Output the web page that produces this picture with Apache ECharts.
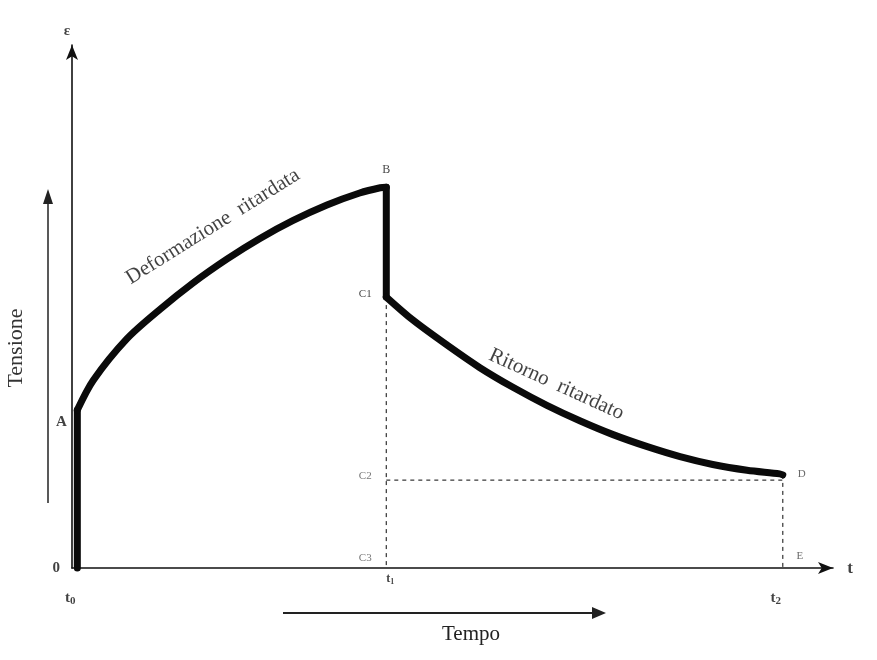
<!DOCTYPE html>
<html><head><meta charset="utf-8">
<script src="https://cdn.jsdelivr.net/npm/echarts@6/dist/echarts.min.js"></script>
<style>html,body{margin:0;padding:0;background:#fff}#c{width:877px;height:660px}</style>
</head><body><div id="c"></div>
<script>
// ---- data (time units, strain units) ----
const t0 = 0.07, t1 = 4.13, t2 = 9.34;
const levelA = 3.02, levelB = 7.28, levelC1 = 5.18, levelC2 = 1.68, levelD = 1.78;
const riseSegment = [[t0, 0], [t0, levelA]];
const deformation = [[t0, levelA], [0.28, 3.59], [0.72, 4.38], [1.16, 4.95], [1.59, 5.45], [2.04, 5.91], [2.47, 6.30], [2.90, 6.64], [3.35, 6.94], [3.78, 7.17], [4.05, 7.27], [t1, levelB]];
const dropSegment = [[t1, levelB], [t1, levelC1]];
const recovery = [[t1, levelC1], [4.48, 4.74], [4.93, 4.26], [5.36, 3.83], [5.80, 3.45], [6.24, 3.11], [6.68, 2.81], [7.11, 2.55], [7.56, 2.32], [7.99, 2.13], [8.42, 1.98], [8.87, 1.87], [9.30, 1.80], [t2, levelD]];
const guideT1 = [[t1, levelC1], [t1, 0]];
const guideC2 = [[t1, levelC2], [t2, levelC2]];
const guideT2 = [[t2, levelD], [t2, 0]];
const pointLabels = [
  ['A', t0, levelA], ['0', t0, 0], ['t0', t0, 0], ['B', t1, levelB], ['C1', t1, levelC1],
  ['C2', t1, levelC2], ['C3', t1, 0], ['t1', t1, 0], ['D', t2, levelD], ['E', t2, 0],
  ['t2', t2, 0], ['t', 10, 0], ['ε', 0, 10],
  ['Deformazione  ritardata', 2.04, 5.91], ['Ritorno  ritardato', 6.24, 3.11]
];
const axisMin = 0, axisMax = 10;

// ---- styles ----
const serif = '"Liberation Serif","DejaVu Serif",serif';
const labelStyle = {
  'A': {offset: [-16, 12], fontSize: 15, fontWeight: 'bold'},
  '0': {offset: [-21, 0], fontSize: 15, fontWeight: 'bold'},
  't0': {offset: [-7, 30], rich: true},
  'B': {offset: [0, -17], fontSize: 12},
  'C1': {offset: [-21, -3], fontSize: 11},
  'C2': {offset: [-21, -4], fontSize: 11, color: '#555'},
  'C3': {offset: [-21, -10], fontSize: 11, color: '#555'},
  't1': {offset: [4, 11], rich: true, small: true},
  'D': {offset: [19, -1], fontSize: 11, color: '#444'},
  'E': {offset: [17, -12], fontSize: 11, color: '#444'},
  't2': {offset: [-7, 30], rich: true},
  't': {offset: [17, 1], fontSize: 17, fontWeight: 'bold'},
  'ε': {offset: [-5, -14], fontSize: 15, fontWeight: 'bold'},
  'Deformazione  ritardata': {offset: [5, -35], fontSize: 21, rotate: 32},
  'Ritorno  ritardato': {offset: [0, -23], fontSize: 21, rotate: -24.5}
};

function labelItem(p) {
  const s = labelStyle[p[0]];
  const lab = {show: true, position: 'inside', offset: s.offset, color: s.color || '#111',
    fontFamily: serif, fontSize: s.fontSize || 14, fontWeight: s.fontWeight || 'normal',
    rotate: s.rotate || 0};
  if (s.rich) {
    const main = s.small ? 12 : 15;
    lab.formatter = '{m|' + p[0][0] + '}{s|' + p[0].slice(1) + '}';
    lab.rich = {m: {fontSize: main, fontWeight: 'bold', fontFamily: serif, color: '#111'},
                s: {fontSize: main - 4, fontWeight: 'bold', fontFamily: serif, color: '#111', padding: [6, 0, 0, 0]}};
  } else {
    lab.formatter = p[0];
  }
  return {value: [p[1], p[2]], label: lab};
}

const thick = {color: '#0a0a0a', width: 7, cap: 'round', join: 'round'};
const dashed = {color: '#333', width: 1.2, type: [4, 4]};
const axisCommon = {
  type: 'value', min: axisMin, max: axisMax,
  axisLine: {show: true, lineStyle: {color: '#111', width: 1.6}, symbol: ['none', 'arrow'], symbolSize: [9, 15]},
  axisTick: {show: false}, axisLabel: {show: false}, splitLine: {show: false}
};
function lineSeries(data, style, smooth) {
  return {type: 'line', data: data, symbol: 'none', smooth: smooth ? 0.3 : false,
    lineStyle: style, clip: false, silent: true, animation: false, z: style.width > 2 ? 5 : 3};
}

const chart = echarts.init(document.getElementById('c'), null, {renderer: 'canvas'});
chart.setOption({
  backgroundColor: '#ffffff',
  animation: false,
  grid: {left: 72, right: 44, top: 45, bottom: 92},
  xAxis: Object.assign({}, axisCommon),
  yAxis: Object.assign({}, axisCommon),
  series: [
    lineSeries(guideT1, dashed), lineSeries(guideC2, dashed), lineSeries(guideT2, dashed),
    lineSeries(riseSegment, thick), lineSeries(deformation, thick, true),
    lineSeries(dropSegment, thick), lineSeries(recovery, thick, true),
    {type: 'scatter', symbolSize: 0, data: pointLabels.map(labelItem), silent: true, z: 10, animation: false}
  ],
  graphic: [
    {type: 'line', shape: {x1: 48, y1: 503, x2: 48, y2: 200}, style: {stroke: '#222', lineWidth: 1.5}},
    {type: 'polygon', shape: {points: [[48, 189], [43, 204], [53, 204]]}, style: {fill: '#222'}},
    {type: 'text', x: 16, y: 348, rotation: Math.PI / 2, style: {text: 'Tensione', font: '22px ' + serif, fill: '#333', align: 'center', verticalAlign: 'middle'}},
    {type: 'line', shape: {x1: 283, y1: 613, x2: 595, y2: 613}, style: {stroke: '#222', lineWidth: 1.8}},
    {type: 'polygon', shape: {points: [[606, 613], [592, 607], [592, 619]]}, style: {fill: '#222'}},
    {type: 'text', x: 471, y: 634, style: {text: 'Tempo', font: '21px ' + serif, fill: '#222', align: 'center', verticalAlign: 'middle'}}
  ]
});
</script></body></html>
